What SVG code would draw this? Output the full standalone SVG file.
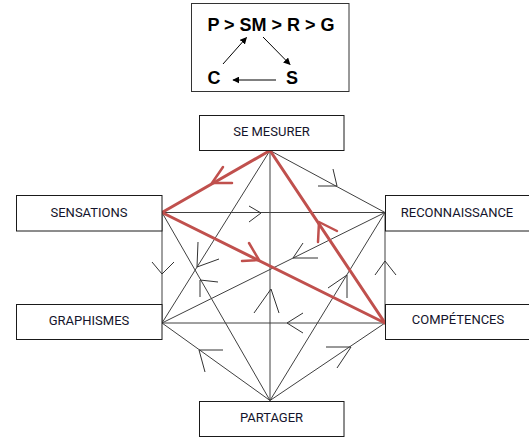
<svg xmlns="http://www.w3.org/2000/svg" width="529" height="437" viewBox="0 0 529 437">
<style>
.box{fill:#fff;stroke:#1a1a1a;stroke-width:1}
.lbl{font-family:Roboto,"Liberation Sans",sans-serif;font-size:13px;fill:#14142b;text-anchor:middle}
.big{font-family:"Liberation Sans",Arial,sans-serif;font-size:18px;font-weight:bold;fill:#000;text-anchor:middle}
.edge{stroke:#404040;stroke-width:1;fill:none}
.red{stroke:#c0504d;stroke-width:3;fill:none;stroke-linecap:round}
.chev{stroke:#333;stroke-width:1;fill:none}
.rchev{stroke:#c0504d;stroke-width:2.5;fill:none;stroke-linecap:round;stroke-linejoin:round}
.small{stroke:#000;stroke-width:1;fill:none}
</style>
<defs>
<marker id="ah" viewBox="0 0 10 10" refX="9" refY="5" markerWidth="7" markerHeight="7" markerUnits="userSpaceOnUse" orient="auto">
<path d="M0,0 L10,5 L0,10 z" fill="#000"/>
</marker>
</defs>
<g id="legend">
<rect x="191.5" y="3.5" width="157.5" height="88" fill="#fff" stroke="#333" stroke-width="1"/>
<text class="big" x="271" y="31">P &gt; SM &gt; R &gt; G</text>
<text class="big" x="214" y="84">C</text>
<text class="big" x="292" y="84">S</text>
<line class="small" x1="223" y1="64" x2="246.5" y2="37.5" marker-end="url(#ah)"/>
<line class="small" x1="263" y1="37" x2="290" y2="64.5" marker-end="url(#ah)"/>
<line class="small" x1="276" y1="80" x2="233" y2="80" marker-end="url(#ah)"/>
</g>
<g id="connectors">
<line class="edge" x1="270" y1="150.5" x2="385" y2="212.5"/>
<line class="edge" x1="270" y1="150.5" x2="162" y2="323"/>
<line class="edge" x1="270" y1="150.5" x2="270" y2="400.5"/>
<line class="edge" x1="162" y1="212.5" x2="385" y2="212.5"/>
<line class="edge" x1="162" y1="212.5" x2="162" y2="323"/>
<line class="edge" x1="162" y1="212.5" x2="270" y2="400.5"/>
<line class="edge" x1="385" y1="212.5" x2="162" y2="323"/>
<line class="edge" x1="385" y1="212.5" x2="385" y2="323"/>
<line class="edge" x1="385" y1="212.5" x2="270" y2="400.5"/>
<line class="edge" x1="162" y1="323" x2="385" y2="323"/>
<line class="edge" x1="162" y1="323" x2="270" y2="400.5"/>
<line class="edge" x1="385" y1="323" x2="270" y2="400.5"/>
<polyline class="chev" points="318,186 337,186 333,169"/>
<polyline class="chev" points="249,206 261,213 249,222"/>
<polyline class="chev" points="318,258 293,258 303,243"/>
<polyline class="chev" points="152,262 162,274 174,262"/>
<polyline class="chev" points="198,242 197,267 219,259"/>
<polyline class="chev" points="218,282 200,280 200,297"/>
<polyline class="chev" points="254,313 271,289 279,313"/>
<polyline class="chev" points="328,288 347,275 347,298"/>
<polyline class="chev" points="303,313 287,323 303,333"/>
<polyline class="chev" points="375,275 385,261 396,275"/>
<polyline class="chev" points="223,350 199,350 205,372"/>
<polyline class="chev" points="326,347 351,347 337,368"/>
<line class="red" x1="270" y1="150.5" x2="162" y2="212.5"/>
<line class="red" x1="270" y1="150.5" x2="385" y2="323"/>
<line class="red" x1="162" y1="212.5" x2="385" y2="323"/>
<polyline class="rchev" points="232,183 212,183 223,167"/>
<polyline class="rchev" points="318,242 319,222 337,231"/>
<polyline class="rchev" points="242,261 259,260 249,243"/>
</g>
<g id="se-mesurer">
<rect class="box" x="199.5" y="115.5" width="144.5" height="35"/>
<text class="lbl" x="271.5" y="136">SE MESURER</text>
</g>
<g id="sensations">
<rect class="box" x="16.5" y="195.5" width="145.5" height="35.5"/>
<text class="lbl" x="89" y="217">SENSATIONS</text>
</g>
<g id="graphismes">
<rect class="box" x="16.5" y="304.5" width="145.5" height="35"/>
<text class="lbl" x="89" y="325">GRAPHISMES</text>
</g>
<g id="reconnaissance">
<rect class="box" x="385.5" y="195.5" width="146" height="35.5"/>
<text class="lbl" x="457" y="217">RECONNAISSANCE</text>
</g>
<g id="competences">
<rect class="box" x="385.5" y="304.5" width="146" height="35"/>
<text class="lbl" x="458" y="324">COMPÉTENCES</text>
</g>
<g id="partager">
<rect class="box" x="199.5" y="401.5" width="144.5" height="35"/>
<text class="lbl" x="271.5" y="422">PARTAGER</text>
</g>
</svg>
